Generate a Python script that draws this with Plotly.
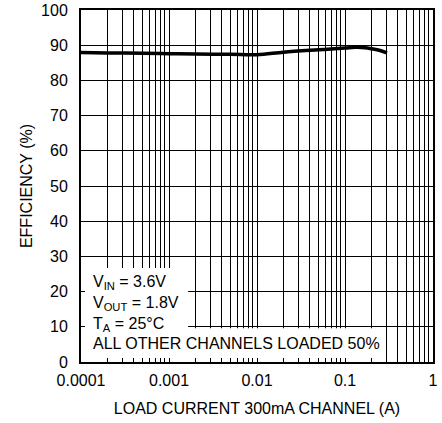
import plotly.graph_objects as go

load_current = [0.0001, 0.0002, 0.0005, 0.001, 0.002, 0.005, 0.01, 0.02, 0.05, 0.1, 0.13, 0.17, 0.2, 0.25, 0.3]
efficiency = [87.9, 87.8, 87.7, 87.6, 87.5, 87.4, 87.3, 88.0, 88.7, 89.2, 89.4, 89.3, 89.0, 88.5, 87.8]

x_tick_vals = [0.0001, 0.001, 0.01, 0.1, 1]
x_tick_labels = ["0.0001", "0.001", "0.01", "0.1", "1"]
y_ticks = [0, 10, 20, 30, 40, 50, 60, 70, 80, 90, 100]

FONT = "Liberation Sans, Arial, sans-serif"

minor_vals = [m * 10.0 ** d for d in range(-4, 0) for m in range(2, 10)]

fig = go.Figure()
fig.add_trace(go.Scatter(
    x=load_current, y=efficiency, mode="lines",
    line=dict(color="black", width=3.5, shape="spline", smoothing=1.0),
    showlegend=False, hoverinfo="skip",
))

fig.update_layout(
    width=442, height=423,
    margin=dict(l=81, r=9, t=10, b=61, autoexpand=False),
    paper_bgcolor="white", plot_bgcolor="white",
    font=dict(family=FONT, size=16, color="black"),
    showlegend=False,
)
fig.update_xaxes(
    type="log", range=[-4, 0], automargin=False,
    tickvals=x_tick_vals, ticktext=x_tick_labels,
    ticks="inside", ticklen=4, tickcolor="black", tickwidth=1,
    showgrid=True, gridcolor="black", gridwidth=1,
    minor=dict(tickvals=minor_vals, ticks="inside", ticklen=4, tickcolor="black", tickwidth=1,
               showgrid=True, gridcolor="black", gridwidth=1),
    showline=True, linecolor="black", linewidth=2, mirror=True,
    zeroline=False, ticklabelstandoff=3,
    title=dict(text="LOAD CURRENT 300mA CHANNEL (A)", standoff=15, font=dict(size=16)),
    tickfont=dict(size=16),
)
fig.update_yaxes(
    range=[0, 100], tickvals=y_ticks, automargin=False,
    ticks="inside", ticklen=4, tickcolor="black", tickwidth=1,
    showgrid=True, gridcolor="black", gridwidth=1,
    showline=True, linecolor="black", linewidth=2, mirror=True,
    zeroline=False, ticklabelstandoff=8,
    title=dict(text="EFFICIENCY (%)", standoff=4, font=dict(size=16)),
    tickfont=dict(size=16),
)

fig.add_shape(type="rect", xref="x", yref="y", x0=0.0001, x1=0.00165, y0=0, y1=26.7,
              fillcolor="white", line=dict(width=0), layer="between")
fig.add_shape(type="rect", xref="x", yref="y", x0=0.0001, x1=0.27, y0=0, y1=9.6,
              fillcolor="white", line=dict(width=0), layer="between")

fig.add_annotation(
    xref="paper", yref="paper", x=0.027, y=0.022, xanchor="left", yanchor="bottom",
    align="left", showarrow=False,
    text="V<sub>IN</sub> = 3.6V<br>V<sub>OUT</sub> = 1.8V<br>T<sub>A</sub> = 25°C<br>ALL OTHER CHANNELS LOADED 50%",
    font=dict(family=FONT, size=16, color="black"),
)

fig.write_html("out.html", config={"displayModeBar": False},
               post_script="document.body.style.margin='0';")
